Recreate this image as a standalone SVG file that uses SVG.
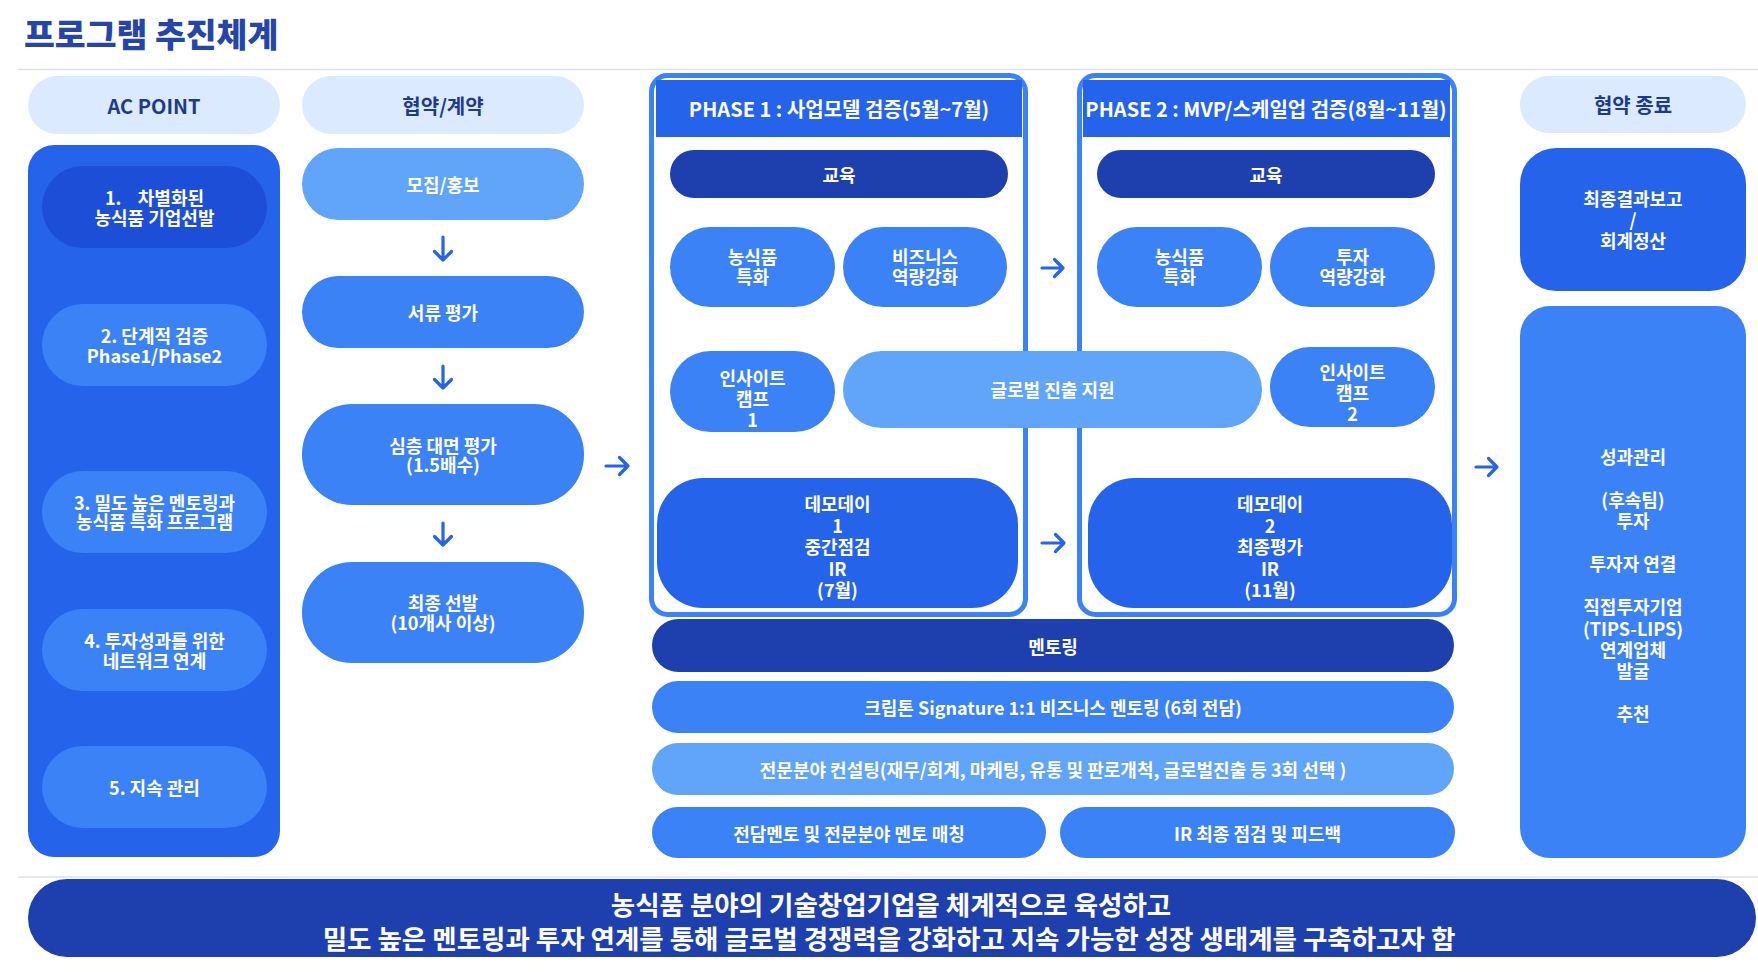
<svg xmlns="http://www.w3.org/2000/svg" width="1758" height="972" viewBox="0 0 1758 972">
<style>
text{font-family:"Noto Sans CJK KR","Noto Sans",sans-serif;font-weight:700;text-anchor:middle;dominant-baseline:central}
.w{fill:#fff;font-size:18px}
.hd{fill:#1e3a8a;font-size:20px}
.ph{fill:#fff;font-size:20px}
.bt{fill:#fff;font-size:26.5px}
.hp{fill:#dbeafe}
.c1{fill:#1d4ed8}
.c2{fill:#2563eb}
.c3{fill:#3b82f6}
.c4{fill:#60a5fa}
.c5{fill:#1e40af}
.sep{stroke:#dde1e7;stroke-width:1.5}
.arr{fill:none;stroke:#2563eb;stroke-width:3.2;stroke-linecap:round;stroke-linejoin:round}
.pbox{fill:#fff;stroke:#3b82f6;stroke-width:5}
</style>
<rect width="1758" height="972" fill="#fff"/>
<g id="title"><text x="24" y="32" style="text-anchor:start;font-size:33.5px;font-weight:900;fill:#2546a8">프로그램 추진체계</text></g>
<line class="sep" x1="18" y1="69.5" x2="1758" y2="69.5"/>
<line class="sep" x1="18" y1="877" x2="1758" y2="877"/>

<g id="ac-point-header"><rect class="hp" x="28" y="76" width="252" height="58" rx="29"/><text class="hd" x="154" y="105">AC POINT</text></g>
<g id="ac-panel"><rect class="c2" x="28" y="145" width="252" height="712" rx="26"/></g>
<g id="ac1"><rect class="c1" x="42" y="166" width="225" height="82" rx="41"/><text class="w" x="154.5" xml:space="preserve"><tspan x="154.5" y="197">1.    차별화된</tspan><tspan x="154.5" y="217">농식품 기업선발</tspan></text></g>
<g id="ac2"><rect class="c3" x="42" y="304" width="225" height="82" rx="41"/><text class="w"><tspan x="154.5" y="335">2. 단계적 검증</tspan><tspan x="154.5" y="355">Phase1/Phase2</tspan></text></g>
<g id="ac3"><rect class="c3" x="42" y="471" width="225" height="82" rx="41"/><text class="w"><tspan x="154.5" y="502">3. 밀도 높은 멘토링과</tspan><tspan x="154.5" y="521">농식품 특화 프로그램</tspan></text></g>
<g id="ac4"><rect class="c3" x="42" y="609" width="225" height="82" rx="41"/><text class="w"><tspan x="154.5" y="640">4. 투자성과를 위한</tspan><tspan x="154.5" y="660">네트워크 연계</tspan></text></g>
<g id="ac5"><rect class="c3" x="42" y="746" width="225" height="82" rx="41"/><text class="w" x="154.5" y="787">5. 지속 관리</text></g>

<g id="contract-header"><rect class="hp" x="302" y="76" width="282" height="58" rx="29"/><text class="hd" x="443" y="105">협약/계약</text></g>
<g id="recruit"><rect class="c4" x="302" y="148" width="282" height="72" rx="36"/><text class="w" x="443" y="184">모집/홍보</text></g>
<g id="doc-eval"><rect class="c3" x="302" y="276" width="282" height="72" rx="36"/><text class="w" x="443" y="312">서류 평가</text></g>
<g id="interview"><rect class="c3" x="302" y="404" width="282" height="101" rx="50"/><text class="w"><tspan x="443" y="445">심층 대면 평가</tspan><tspan x="443" y="464">(1.5배수)</tspan></text></g>
<g id="final-select"><rect class="c3" x="302" y="562" width="282" height="101" rx="50"/><text class="w"><tspan x="443" y="602">최종 선발</tspan><tspan x="443" y="622">(10개사 이상)</tspan></text></g>

<g id="phase1">
<rect class="pbox" x="651.5" y="75.5" width="374" height="539" rx="16"/>
<rect class="c2" x="656" y="80" width="366" height="57"/>
<text class="ph" x="839" y="108">PHASE 1 : 사업모델 검증(5월~7월)</text>
</g>
<g id="phase2">
<rect class="pbox" x="1079.5" y="75.5" width="375" height="539" rx="16"/>
<rect class="c2" x="1083" y="80" width="367" height="57"/>
<text class="ph" x="1266" y="108">PHASE 2 : MVP/스케일업 검증(8월~11월)</text>
</g>

<g id="p1-edu"><rect class="c5" x="670" y="150" width="338" height="48" rx="24"/><text class="w" x="839" y="174">교육</text></g>
<g id="p1-agri"><rect class="c3" x="670" y="227" width="165" height="80" rx="40"/><text class="w"><tspan x="752.5" y="256">농식품</tspan><tspan x="752.5" y="276">특화</tspan></text></g>
<g id="p1-biz"><rect class="c3" x="843" y="227" width="164" height="80" rx="40"/><text class="w"><tspan x="925" y="256">비즈니스</tspan><tspan x="925" y="276">역량강화</tspan></text></g>
<g id="p1-camp"><rect class="c3" x="670" y="351" width="165" height="81" rx="40.5"/><text class="w"><tspan x="752.5" y="377">인사이트</tspan><tspan x="752.5" y="398">캠프</tspan><tspan x="752.5" y="419">1</tspan></text></g>
<g id="p1-demo"><rect class="c2" x="657" y="478" width="361" height="130" rx="46"/><text class="w"><tspan x="837.5" y="503">데모데이</tspan><tspan x="837.5" y="524.5">1</tspan><tspan x="837.5" y="546">중간점검</tspan><tspan x="837.5" y="567.5">IR</tspan><tspan x="837.5" y="589">(7월)</tspan></text></g>

<g id="p2-edu"><rect class="c5" x="1097" y="150" width="338" height="48" rx="24"/><text class="w" x="1266" y="174">교육</text></g>
<g id="p2-agri"><rect class="c3" x="1097" y="227" width="165" height="80" rx="40"/><text class="w"><tspan x="1179.5" y="256">농식품</tspan><tspan x="1179.5" y="276">특화</tspan></text></g>
<g id="p2-inv"><rect class="c3" x="1270" y="227" width="165" height="80" rx="40"/><text class="w"><tspan x="1352.5" y="256">투자</tspan><tspan x="1352.5" y="276">역량강화</tspan></text></g>
<g id="p2-camp"><rect class="c3" x="1270" y="347" width="165" height="80" rx="40"/><text class="w"><tspan x="1352.5" y="371">인사이트</tspan><tspan x="1352.5" y="392">캠프</tspan><tspan x="1352.5" y="413">2</tspan></text></g>
<g id="p2-demo"><rect class="c2" x="1088" y="478" width="364" height="130" rx="46"/><text class="w"><tspan x="1270" y="503">데모데이</tspan><tspan x="1270" y="524.5">2</tspan><tspan x="1270" y="546">최종평가</tspan><tspan x="1270" y="567.5">IR</tspan><tspan x="1270" y="589">(11월)</tspan></text></g>

<g id="global"><rect class="c4" x="843" y="351" width="419" height="77" rx="38.5"/><text class="w" x="1052.5" y="389">글로벌 진출 지원</text></g>

<g id="mentoring"><rect class="c5" x="652" y="619" width="802" height="53" rx="26.5"/><text class="w" x="1053" y="646">멘토링</text></g>
<g id="signature"><rect class="c3" x="652" y="681" width="802" height="52" rx="26"/><text class="w" x="1053" y="707">크립톤 Signature 1:1 비즈니스 멘토링 (6회 전담)</text></g>
<g id="consulting"><rect class="c4" x="652" y="743" width="802" height="52" rx="26"/><text class="w" x="1053" y="769">전문분야 컨설팅(재무/회계, 마케팅, 유통 및 판로개척, 글로벌진출 등 3회 선택 )</text></g>
<g id="matching"><rect class="c3" x="652" y="807" width="394" height="51" rx="25.5"/><text class="w" x="849" y="833">전담멘토 및 전문분야 멘토 매칭</text></g>
<g id="ir-final"><rect class="c3" x="1060" y="807" width="395" height="51" rx="25.5"/><text class="w" x="1257.5" y="833">IR 최종 점검 및 피드백</text></g>

<g id="end-header"><rect class="hp" x="1520" y="76" width="226" height="57" rx="28.5"/><text class="hd" x="1633" y="104.5">협약 종료</text></g>
<g id="final-report"><rect class="c2" x="1520" y="148" width="226" height="143" rx="36"/><text class="w"><tspan x="1633" y="198">최종결과보고</tspan><tspan x="1633" y="219">/</tspan><tspan x="1633" y="240">회계정산</tspan></text></g>
<g id="performance"><rect class="c3" x="1520" y="306" width="226" height="552" rx="30"/><text class="w"><tspan x="1633" y="456">성과관리</tspan><tspan x="1633" y="499">(후속팀)</tspan><tspan x="1633" y="520">투자</tspan><tspan x="1633" y="563">투자자 연결</tspan><tspan x="1633" y="606">직접투자기업</tspan><tspan x="1633" y="628">(TIPS-LIPS)</tspan><tspan x="1633" y="649">연계업체</tspan><tspan x="1633" y="670">발굴</tspan><tspan x="1633" y="713">추천</tspan></text></g>

<g id="summary"><rect class="c5" x="28" y="879" width="1728" height="78" rx="39"/><text class="bt" x="891" y="903">농식품 분야의 기술창업기업을 체계적으로 육성하고</text><text class="bt" x="889" y="937">밀도 높은 멘토링과 투자 연계를 통해 글로벌 경쟁력을 강화하고 지속 가능한 성장 생태계를 구축하고자 함</text></g>

<g id="connectors">
<path class="arr" d="M443,237 V260 M434.5,251.5 L443,260 L451.5,251.5"/>
<path class="arr" d="M443,366 V388 M434.5,379.5 L443,388 L451.5,379.5"/>
<path class="arr" d="M443,523 V545 M434.5,536.5 L443,545 L451.5,536.5"/>
<path class="arr" d="M606,466 H628 M619.5,457.5 L628,466 L619.5,474.5"/>
<path class="arr" d="M1042,268 H1063 M1054.5,259.5 L1063,268 L1054.5,276.5"/>
<path class="arr" d="M1042,543 H1064 M1055.5,534.5 L1064,543 L1055.5,551.5"/>
<path class="arr" d="M1476,467 H1497 M1488.5,458.5 L1497,467 L1488.5,475.5"/>
</g>
</svg>
